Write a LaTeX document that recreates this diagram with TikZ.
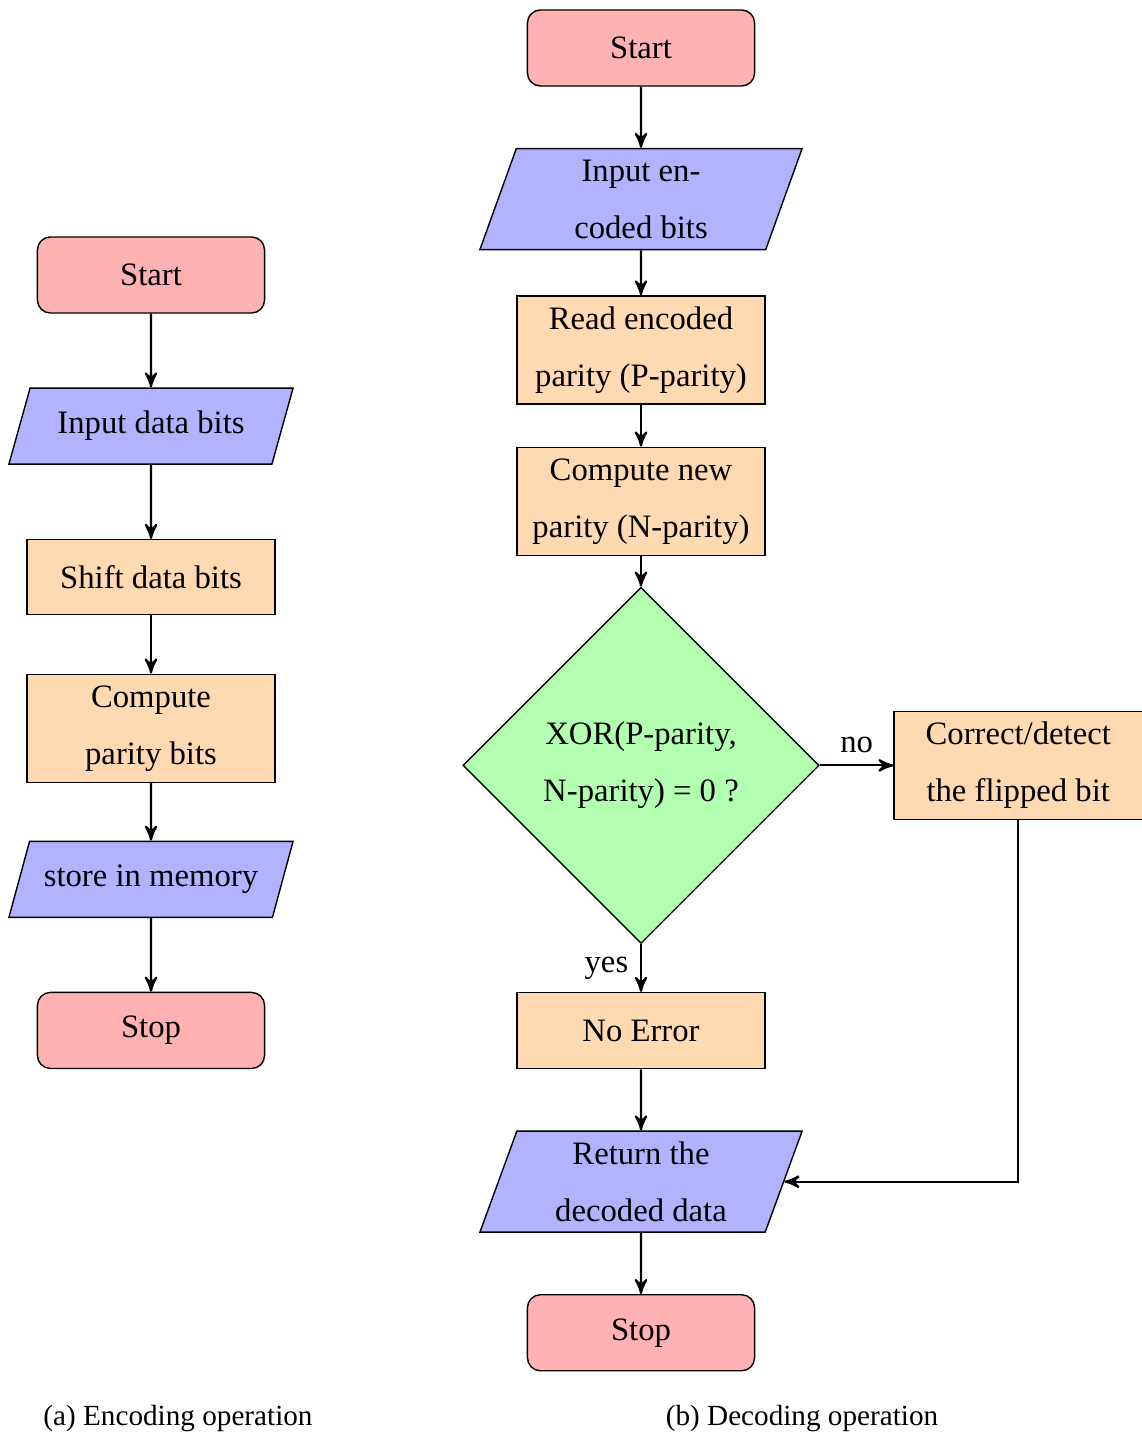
\documentclass[tikz,border=0pt]{standalone}
\usepackage{fontspec}
\setmainfont{Liberation Serif}
\usetikzlibrary{arrows,shapes.geometric,positioning}

\begin{document}
\begin{tikzpicture}[x=0.01cm,y=-0.01cm,->,>=stealth',semithick,node distance=1.51cm]
		\tikzstyle{every node}=[font=\fontsize{9.3}{16.2}\selectfont,align=center]
		\tikzstyle{startstop}=[rectangle,rounded corners=0.13cm,draw,thin,fill=red!30,minimum width=2.27cm,minimum height=0.76cm]
		\tikzstyle{io}=[trapezium,trapezium left angle=67,trapezium right angle=113,trapezium stretches body,draw,thin,fill=blue!30,inner sep=1pt,minimum width=3.22cm,minimum height=1.01cm]
		\tikzstyle{iosmall}=[io,trapezium left angle=60,trapezium right angle=120,minimum width=2.84cm,minimum height=0.76cm]
		\tikzstyle{process}=[rectangle,draw,thin,fill=orange!30,inner sep=1pt,minimum width=2.48cm,minimum height=1.08cm]
		\tikzstyle{decision}=[diamond,aspect=1,draw,thin,fill=green!30,inner sep=0pt,minimum width=3.56cm,minimum height=3.56cm]
		
		\useasboundingbox (0,0) rectangle (1141,1434);
		
		% (a) encoding
		\node[startstop] (enc0) at (151,275) {Start};
		\node[iosmall] (enc1) [below of=enc0] {Input data bits};
		\node[process,minimum height=0.75cm] (enc2) [below of=enc1] {Shift data bits};
		\node[process] (enc3) [below of=enc2] {Compute\\parity bits};
		\node[iosmall] (enc4) [below of=enc3] {store in memory};
		\node[startstop] (enc5) [below of=enc4] {Stop};
		
		% (b) decoding
		\node[startstop] (dec0) at (641,48) {Start};
		\node[io] (dec1) [below of=dec0] {Input en-\\coded bits};
		\node[process] (dec2) [below of=dec1] {Read encoded\\parity (P-parity)};
		\node[process] (dec3) [below of=dec2] {Compute new\\parity (N-parity)};
		\node[decision] (dec4) [below of=dec3,node distance=2.64cm] {XOR(P-parity,\\N-parity) = 0 ?};
		\node[process] (dec5) [right of=dec4,node distance=3.77cm] {Correct/detect\\the flipped bit};
		\node[process,minimum height=0.76cm] (dec6) [below of=dec4,node distance=2.65cm] {No Error};
		\node[io] (dec7) [below of=dec6] {Return the\\decoded data};
		\node[startstop] (dec8) [below of=dec7] {Stop};
		
		\node[font=\fontsize{8.3}{10}\selectfont] (capa) at (178,1419) {(a) Encoding operation};
		\node[font=\fontsize{8.3}{10}\selectfont] (capb) at (802,1419) {(b) Decoding operation};
		
		\draw (enc0) -- (enc1);
		\draw (enc1) -- (enc2);
		\draw (enc2) -- (enc3);
		\draw (enc3) -- (enc4);
		\draw (enc4) -- (enc5);
		
		\draw (dec0) -- (dec1);
		\draw (dec1) -- (dec2);
		\draw (dec2) -- (dec3);
		\draw (dec3) -- (dec4);
		\draw (dec4) -- node[above] {no} (dec5);
		\draw (dec4) -- node[left] {yes} (dec6);
		\draw (dec6) -- (dec7);
		\draw (dec5.south) |- (dec7.east);
		\draw (dec7) -- (dec8);
	\end{tikzpicture}
\end{document}
